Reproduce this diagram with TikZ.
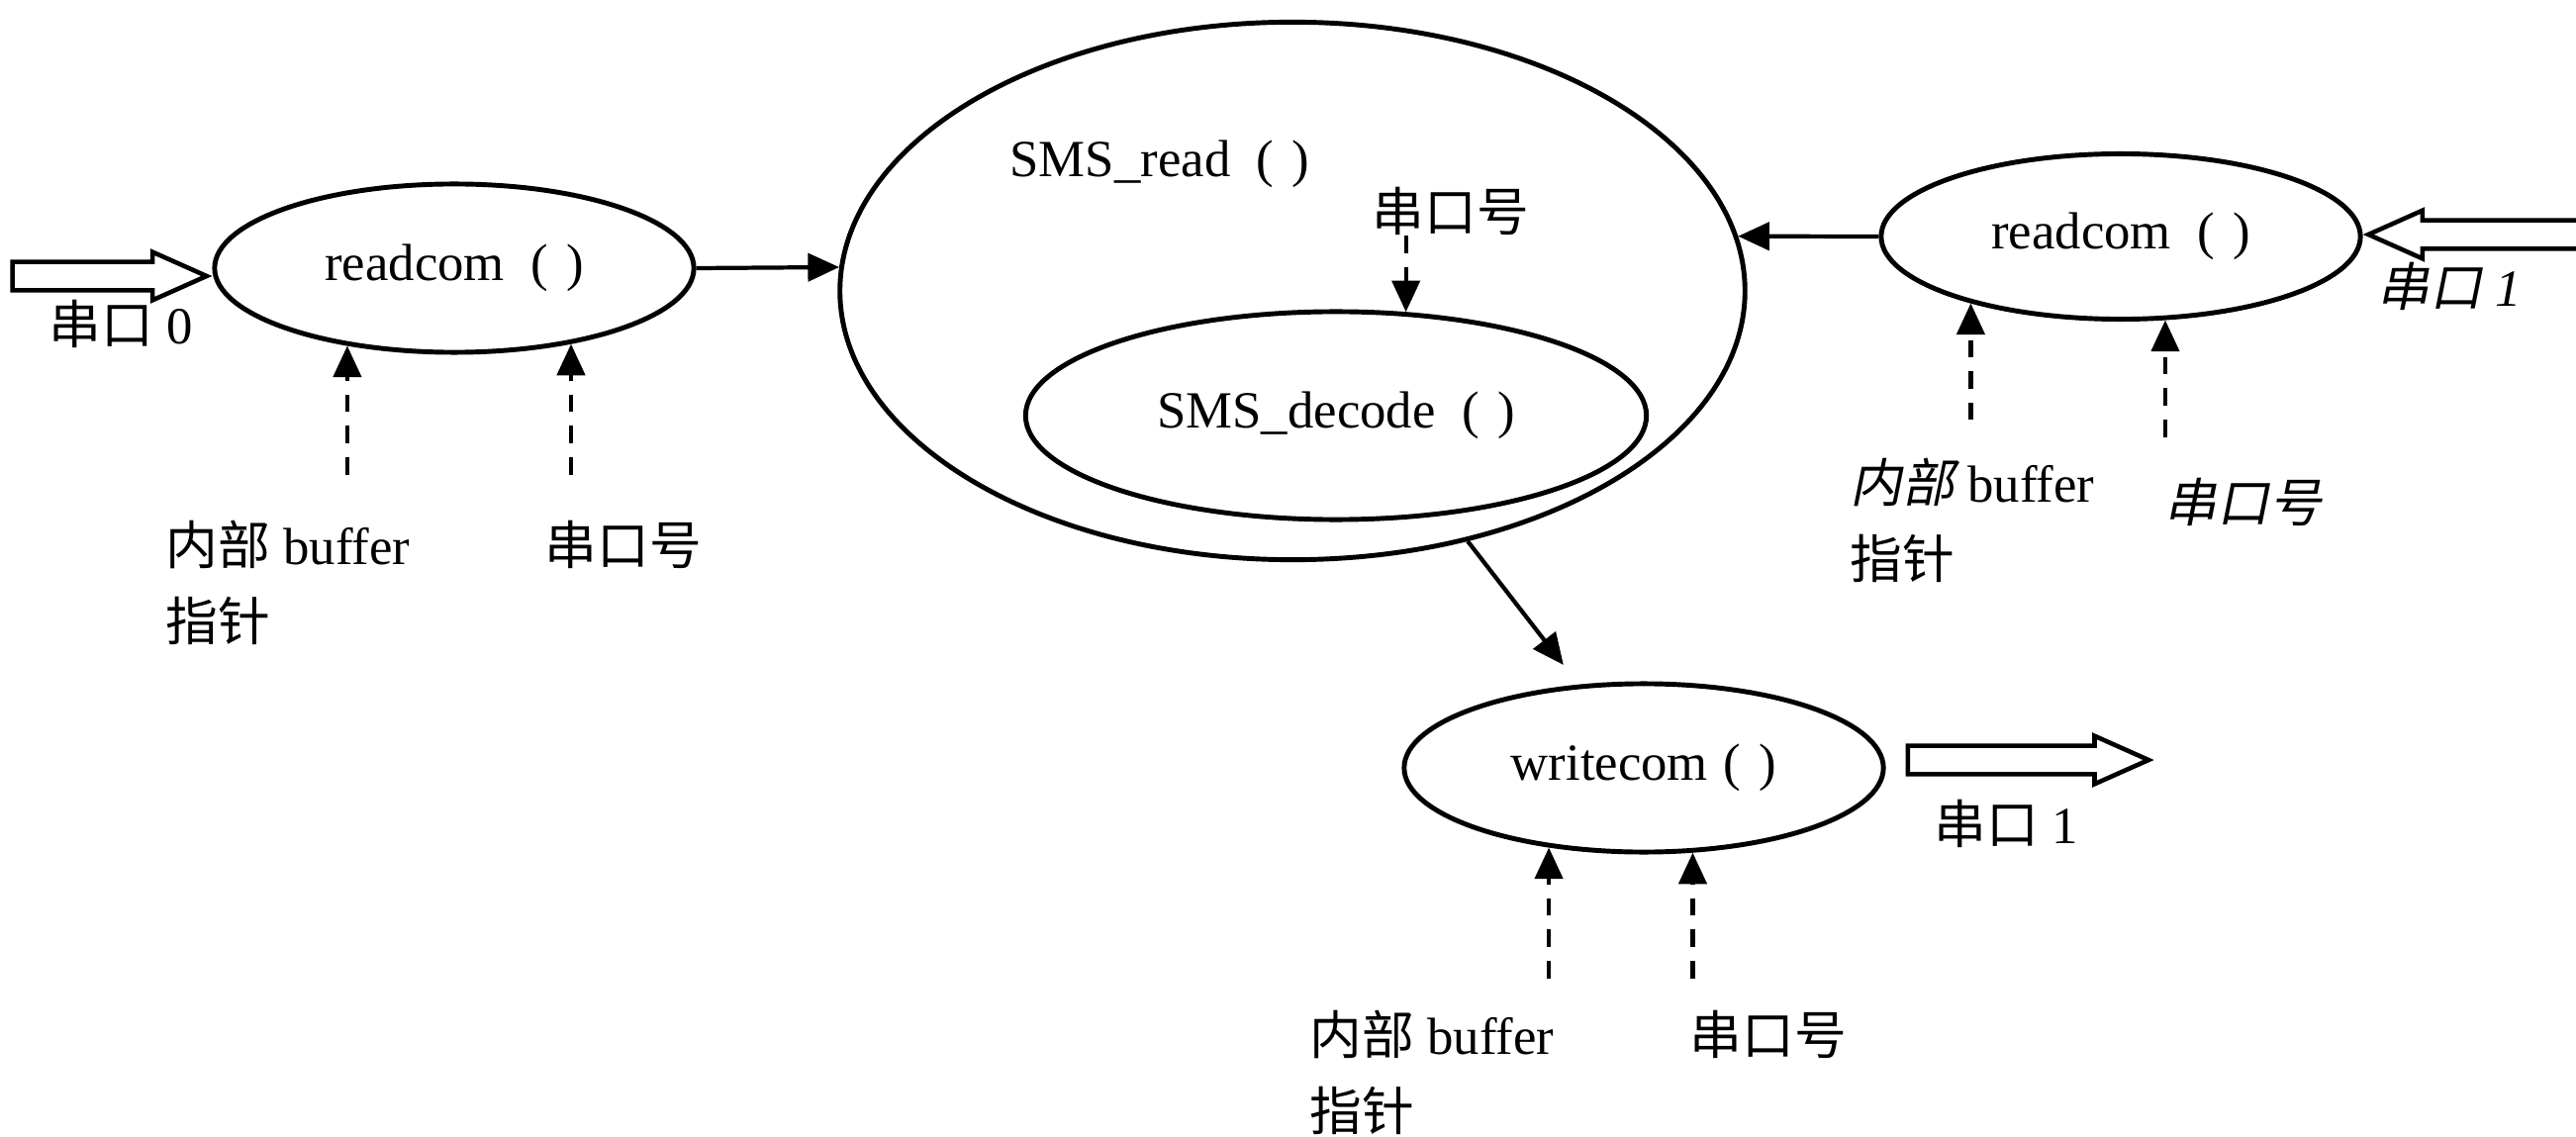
\documentclass[tikz,border=0pt]{standalone}
\usepackage{fontspec}
\setmainfont{Liberation Serif}
\newfontfamily\cjk{Noto Sans CJK SC}
\newfontfamily\cjksl[FakeSlant=0.2]{Noto Sans CJK SC}
\usetikzlibrary{shapes.geometric,shapes.arrows,arrows.meta,calc}
\newcommand{\kh}[1][0.5em]{\hspace{#1}(\hspace{0.35em})}

\begin{document}
\begin{tikzpicture}[x=0.01cm,y=-0.01cm,
  font=\fontsize{15pt}{22pt}\selectfont,
  func node/.style={ellipse,draw,line width=1.4pt,inner sep=0pt,minimum width=4.84cm,minimum height=1.7cm},
  txt/.style={inner sep=0pt},
  label node/.style={inner sep=0pt,align=left,anchor=north west},
  flow/.style={line width=1.2pt,-{Triangle[length=9pt,width=8pt]}},
  param/.style={flow,dash pattern=on 5pt off 4pt},
  port/.style={single arrow,draw,line width=1.3pt,inner xsep=0pt,inner ysep=0.12cm,minimum height=1.96cm,
    minimum width=0.45cm,single arrow head extend=0.1cm,single arrow tip angle=48}]

  \useasboundingbox (0,0) rectangle (2603,1149);

  % functions
  \node[func node] (rd0) at (459,271) {readcom\kh};
  \node[func node,minimum width=9.14cm,minimum height=5.43cm] (read) at (1306,294) {};
  \node[func node,minimum width=6.27cm,minimum height=2.1cm] (dec) at (1350,420) {SMS\_decode\kh};
  \node[func node,minimum height=1.67cm] (rd1) at (2143,239) {readcom\kh};
  \node[func node] (wc) at (1661,776) {writecom\kh[0.3em]};

  \node[txt] (readlbl) at (1172,166) {SMS\_read\kh};
  \node[txt] (readport) at (1466,213) {{\cjk 串口号}};

  % serial ports
  \node[port,anchor=tip] (in0) at ($(rd0.west)+(0,8)$) {};
  \node[txt] (in0lbl) at (122,327) {{\cjk 串口} 0};
  \node[port,shape border rotate=180,anchor=tip,minimum height=2.6cm] (in1) at ($(rd1.east)+(0,-2)$) {};
  \node[txt] (in1lbl) at (2475,289) {{\cjksl 串口} \textit{1}};
  \node[port,anchor=tail,minimum height=2.43cm] (out1) at ($(wc.east)+(20,-8)$) {};
  \node[txt] (out1lbl) at (2027,832) {{\cjk 串口} 1};

  % parameters
  \node[label node] (buf0) at (167,525) {{\cjk 内部} buffer\\{\cjk 指针}};
  \node[label node] (num0) at (550,525) {{\cjk 串口号}};
  \node[label node] (buf1) at (1869,462) {{\cjksl 内部} buffer\\{\cjk 指针}};
  \node[label node] (num1) at (2187,482) {{\cjksl 串口号}};
  \node[label node] (buf2) at (1323,1020) {{\cjk 内部} buffer\\{\cjk 指针}};
  \node[label node] (num2) at (1707,1020) {{\cjk 串口号}};

  \coordinate (b0) at ($(rd0.-144.5)+(0,130)$);
  \coordinate (n0) at ($(rd0.-33)+(0,132)$);
  \coordinate (b1) at ($(rd1.-156)+(0,118)$);
  \coordinate (n1) at ($(rd1.-62)+(0,118)$);
  \coordinate (b2) at ($(wc.-140.5)+(0,132)$);
  \coordinate (n2) at ($(wc.-60)+(0,127)$);

  \draw[param] (b0) -- (rd0.-144.5);
  \draw[param] (n0) -- (rd0.-33);
  \draw[param] (b1) -- (rd1.-156);
  \draw[param] (n1) -- (rd1.-62);
  \draw[param] (b2) -- (wc.-140.5);
  \draw[param] (n2) -- (wc.-60);
  \draw[param] (readport.south -| dec.56) -- (dec.56);

  % data flow
  \draw[flow] (rd0.east) -- (read.177);
  \draw[flow] (rd1.west) -- (read.7);
  \draw[flow,shorten >=0.25cm] (read.-55) -- (wc.128);
\end{tikzpicture}
\end{document}
